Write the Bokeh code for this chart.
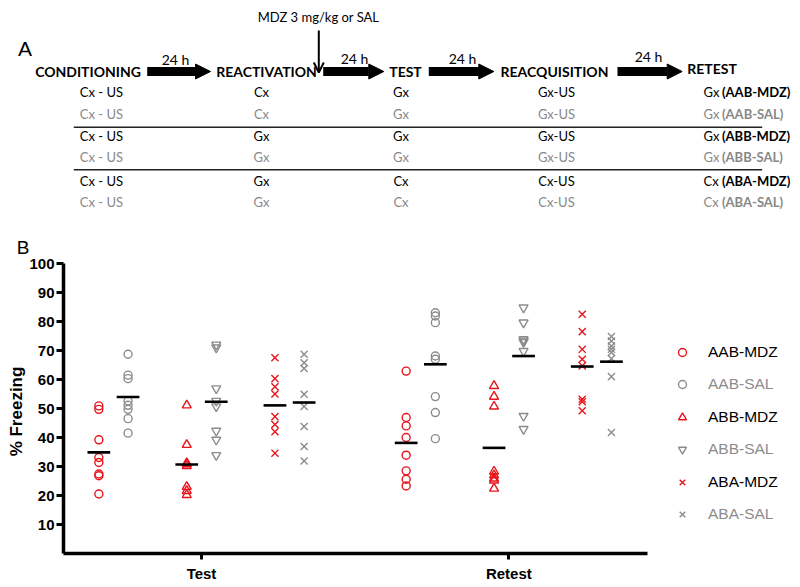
from bokeh.plotting import figure
from bokeh.models import (Range1d, FixedTicker, Arrow, NormalHead, OpenHead, Legend, LegendItem)
from bokeh.core.properties import value
from bokeh.embed import file_html
from bokeh.resources import INLINE
import numpy as np

# ---------------- data (panel B) ----------------
sessions = ["Test", "Retest"]
groups = ["AAB-MDZ", "AAB-SAL", "ABB-MDZ", "ABB-SAL", "ABA-MDZ", "ABA-SAL"]

test_AAB_MDZ = [50.9, 49.7, 39.2, 33.1, 31.4, 27.4, 26.8, 20.5]
test_AAB_SAL = [68.7, 61.5, 60.3, 52.6, 51.1, 49.7, 46.5, 41.5]
test_ABB_MDZ = [51.1, 37.5, 31.2, 30.8, 30.2, 23.0, 21.6, 20.2]
test_ABB_SAL = [72.0, 71.0, 56.9, 52.6, 50.7, 42.3, 39.2, 33.9]
test_ABA_MDZ = [67.5, 60.3, 57.5, 55.0, 47.2, 44.5, 42.0, 34.6]
test_ABA_SAL = [68.7, 65.8, 63.8, 54.9, 50.7, 43.8, 36.9, 31.9]

retest_AAB_MDZ = [62.9, 46.9, 44.0, 40.0, 33.9, 28.5, 25.6, 23.3]
retest_AAB_SAL = [83.0, 81.9, 79.6, 68.1, 67.0, 54.1, 48.6, 39.6]
retest_ABB_MDZ = [57.8, 54.1, 50.7, 28.3, 27.0, 25.9, 25.2, 22.4]
retest_ABB_SAL = [84.8, 79.6, 73.9, 73.4, 72.9, 69.8, 47.4, 42.9]
retest_ABA_MDZ = [82.5, 76.5, 70.4, 67.0, 64.7, 53.2, 52.3, 49.2]
retest_ABA_SAL = [74.8, 73.3, 71.5, 70.4, 69.3, 67.2, 61.0, 41.7]

y_ticks = [10, 20, 30, 40, 50, 60, 70, 80, 90, 100]
y_label = "% Freezing"

# ---------------- text content (panel A) ----------------
stages = ["CONDITIONING", "REACTIVATION", "TEST", "REACQUISITION", "RETEST"]
intervals = ["24 h", "24 h", "24 h", "24 h"]
treatment = "MDZ 3 mg/kg or SAL"
cond_col = ["Cx - US"] * 6
react_col = ["Cx", "Cx", "Gx", "Gx", "Gx", "Gx"]
test_col = ["Gx", "Gx", "Gx", "Gx", "Cx", "Cx"]
reacq_col = ["Gx-US", "Gx-US", "Gx-US", "Gx-US", "Cx-US", "Cx-US"]
retest_col = ["Gx", "Gx", "Gx", "Gx", "Cx", "Cx"]

# ---------------- styles / layout ----------------
RED = "#e8141b"
GRAY = "#8c8c8c"
TXT_GRAY = "#888888"
markers = ["circle", "circle", "triangle", "inverted_triangle", "x", "x"]
msizes = [8, 8, 9, 9, 10, 10]
colors = [RED, GRAY, RED, GRAY, RED, GRAY]
row_colors = ["black", TXT_GRAY, "black", TXT_GRAY, "black", TXT_GRAY]
offsets = [-0.334, -0.239, -0.048, 0.048, 0.239, 0.334]

W, H = 800, 587
AX_LEFT = 63       # y-axis position (px)
AX_BOTTOM = 553    # x-axis position (px from top)
TEST_PX = 201      # px position of first session
PXU = 307.3        # px per session unit
PYU = 2.9          # px per % unit


def xv(px):
    return 1 + (px - TEST_PX) / PXU


def yv(py):
    return (AX_BOTTOM - py) / PYU


p = figure(width=W, height=H, x_range=Range1d(xv(0), xv(W)), y_range=Range1d(yv(H), yv(0)),
           output_backend="svg", toolbar_location=None, min_border=0,
           min_border_left=0, min_border_right=0, min_border_top=0, min_border_bottom=0,
           outline_line_color=None)
p.grid.visible = False
# pixel-like ranges for the schematic (panel A)
p.extra_x_ranges = {"px": Range1d(0, W)}
p.extra_y_ranges = {"py": Range1d(H, 0)}

TXT = dict(x_range_name="px", y_range_name="py", text_baseline="middle")


def txt(xs, ys, texts, cols, size, font="Lato", style="normal", align="center", angle=0):
    p.text(x=xs, y=ys, text=texts, text_color=cols, text_font=value(font), text_font_size=size,
           text_font_style=style, text_align=align, angle=angle, **TXT)


# ---------------- Panel A ----------------
txt([24.5], [47.5], ["A"], "black", "21px", font="Liberation Sans")
txt([22.5], [247], ["B"], "black", "19px", font="Liberation Sans")

stage_x = [87.5, 266, 405, 554, 711.5]
stage_y = [71, 71, 71, 71, 67.5]
txt(stage_x, stage_y, stages, "black", "14px", style="bold")

arr_x0 = [146.7, 322.7, 428.3, 617.0]
arr_x1 = [210.0, 383.3, 493.3, 681.7]
lab_x = [175, 354, 462, 648]
lab_y = [58.5, 58, 57.5, 56]
txt(lab_x, lab_y, intervals, "black", "14px")
for a, b in zip(arr_x0, arr_x1):
    p.add_layout(Arrow(x_start=a, y_start=71, x_end=b, y_end=71, line_width=9, line_color="black",
                       x_range_name="px", y_range_name="py",
                       end=NormalHead(size=15, fill_color="black", line_color="black", line_width=1)))

txt([318], [16.5], [treatment], "black", "13px")
p.add_layout(Arrow(x_start=318.3, y_start=30, x_end=318.3, y_end=72, line_width=2, line_color="black",
                   x_range_name="px", y_range_name="py",
                   end=OpenHead(size=10, line_width=2, line_color="black")))

row_y = [91.5, 113, 135.5, 156.5, 180.5, 201]
col_x = [101, 261, 400.5, 556]
for cx, col in zip(col_x, [cond_col, react_col, test_col, reacq_col]):
    txt([cx] * 6, row_y, col, row_colors, "13px")
txt([703] * 6, row_y, retest_col, row_colors, "13px", align="left")
txt([721.5] * 6, row_y, ["(" + g + ")" for g in groups], row_colors, "13px",
    style="bold", align="left")
p.segment(x0=[73.3, 73.3], y0=[126.7, 169.3], x1=[761.7, 761.7], y1=[126.7, 169.3],
          line_width=1.5, line_color="#222222", x_range_name="px", y_range_name="py")

# ---------------- Panel B ----------------
test_data = [test_AAB_MDZ, test_AAB_SAL, test_ABB_MDZ, test_ABB_SAL, test_ABA_MDZ, test_ABA_SAL]
retest_data = [retest_AAB_MDZ, retest_AAB_SAL, retest_ABB_MDZ, retest_ABB_SAL, retest_ABA_MDZ, retest_ABA_SAL]

renderers = []
for gi, g in enumerate(groups):
    vals = list(test_data[gi]) + list(retest_data[gi])
    xs = [1 + offsets[gi]] * len(test_data[gi]) + [2 + offsets[gi]] * len(retest_data[gi])
    r = p.scatter(x=xs, y=vals, marker=markers[gi], size=msizes[gi], fill_color=None,
                  line_color=colors[gi], line_width=1.4)
    renderers.append(r)

mx, my = [], []
for gi in range(6):
    for si, d in enumerate([test_data[gi], retest_data[gi]]):
        mx.append(si + 1 + offsets[gi])
        my.append(float(np.mean(d)))
mx = np.array(mx)
p.segment(x0=mx - 0.037, x1=mx + 0.037, y0=my, y1=my, line_color="black", line_width=2.6)

ya = p.yaxis[0]
ya.fixed_location = xv(AX_LEFT)
ya.ticker = FixedTicker(ticks=y_ticks)
ya.bounds = (0, 100)
ya.axis_line_width = 3.5
ya.major_tick_line_width = 3
ya.major_tick_out = 7
ya.major_tick_in = 0
ya.minor_tick_line_color = None
ya.major_label_standoff = 2
ya.major_label_text_font = "Liberation Sans"
ya.major_label_text_font_style = "bold"
ya.major_label_text_font_size = "15px"
ya.major_label_text_color = "black"
txt([16], [411], [y_label], "black", "17px", font="Liberation Sans", style="bold", angle=np.pi / 2)

xa = p.xaxis[0]
xa.fixed_location = 0
xa.ticker = FixedTicker(ticks=[1, 2])
xa.major_label_overrides = {1: sessions[0], 2: sessions[1]}
xa.bounds = (xv(AX_LEFT), 2.451)
xa.axis_line_width = 3.5
xa.major_tick_line_width = 3
xa.major_tick_out = 6
xa.major_tick_in = 0
xa.minor_tick_line_color = None
xa.major_label_standoff = 5
xa.major_label_text_font = "Liberation Sans"
xa.major_label_text_font_style = "bold"
xa.major_label_text_font_size = "15px"
xa.major_label_text_color = "black"

for idxs, vy, tc in [([0, 2, 4], H - 492, "black"), ([1, 3, 5], H - 524, GRAY)]:
    leg = Legend(items=[LegendItem(label=groups[i], renderers=[renderers[i]]) for i in idxs],
                 location=(672, vy), glyph_width=20, glyph_height=20, label_height=20,
                 label_standoff=16, spacing=45, padding=0, margin=0,
                 border_line_color=None, background_fill_alpha=0,
                 label_text_font="Liberation Sans", label_text_font_size="15.5px",
                 label_text_color=tc)
    p.add_layout(leg)

open("out.html", "w").write(file_html(p, INLINE))
